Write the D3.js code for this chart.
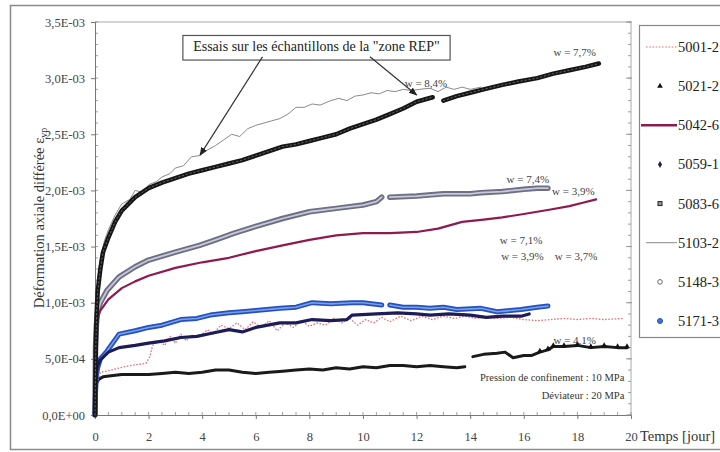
<!DOCTYPE html>
<html><head><meta charset="utf-8">
<script src="https://cdn.jsdelivr.net/npm/d3@7"></script>
<style>body{margin:0;background:#fff}svg{display:block}</style>
</head><body>
<svg id="c" width="720" height="452"></svg>
<script>
// ---- data (values in units of 1e-3) ----
const xTicks = [0,2,4,6,8,10,12,14,16,18,20];
const xTickLabels = ["0","2","4","6","8","10","12","14","16","18","20"];
const yTicks = [0,0.5,1,1.5,2,2.5,3,3.5];
const yTickLabels = ["0,0E+00","5,0E-04","1,0E-03","1,5E-03","2,0E-03","2,5E-03","3,0E-03","3,5E-03"];
const seriesNames = ["5001-2","5021-2","5042-6","5059-1","5083-6","5103-2","5148-3","5171-3"];

const s5001 = [[0,0],[0.05,0.25],[0.2,0.38],[0.6,0.4],[0.93,0.42],[1.3,0.44],[1.6,0.45],[1.9,0.46],[2.05,0.52],[2.15,0.62],[2.4,0.66],[2.6,0.62],[2.8,0.7],[3.0,0.64],[3.2,0.72],[3.4,0.66],[3.6,0.71],[3.9,0.7],[4.2,0.76],[4.4,0.72],[4.7,0.8],[5,0.77],[5.3,0.82],[5.6,0.76],[5.9,0.83],[6.2,0.78],[6.5,0.84],[6.8,0.75],[7.1,0.82],[7.4,0.78],[7.7,0.84],[8.0,0.79],[8.3,0.82],[8.6,0.8],[8.9,0.86],[9.2,0.82],[9.5,0.86],[9.8,0.8],[10.1,0.85],[10.4,0.82],[10.7,0.87],[11,0.83],[11.4,0.88],[11.8,0.84],[12.2,0.88],[12.6,0.85],[13,0.88],[13.4,0.86],[13.8,0.88],[14.2,0.86],[14.6,0.87],[15,0.86],[15.5,0.87],[16,0.85],[16.5,0.84],[17,0.85],[17.5,0.86],[18,0.85],[18.5,0.86],[19,0.85],[19.7,0.86]];
const s5021 = [[0,0],[0.02,0.2],[0.05,0.28],[0.15,0.32],[0.3,0.34],[0.6,0.35],[1,0.36],[1.5,0.36],[2,0.36],[2.5,0.37],[3,0.38],[3.5,0.37],[4,0.38],[4.5,0.4],[5,0.4],[5.5,0.38],[6,0.37],[6.5,0.38],[7,0.39],[7.5,0.4],[8,0.41],[8.5,0.4],[9,0.42],[9.5,0.41],[10,0.43],[10.5,0.42],[11,0.44],[11.5,0.44],[12,0.43],[12.5,0.44],[13,0.43],[13.5,0.42],[13.8,0.43],null,[14.1,0.52],[14.5,0.54],[15,0.55],[15.3,0.56],[15.6,0.51],[16,0.53],[16.3,0.53],[16.6,0.56],[16.9,0.58],[17.1,0.61],[17.5,0.61],[18,0.62],[18.5,0.6],[19,0.61],[19.5,0.6],[19.85,0.6]];
const s5042 = [[0,0.55],[0.05,0.8],[0.1,0.87],[0.2,0.93],[0.5,1.03],[1,1.13],[1.5,1.19],[2,1.24],[3,1.31],[4,1.36],[5,1.4],[6,1.46],[7,1.51],[8,1.56],[9,1.6],[10,1.62],[11,1.62],[12,1.63],[12.8,1.66],[13.7,1.72],[14.5,1.74],[15.2,1.76],[16,1.79],[16.5,1.81],[17,1.83],[17.7,1.86],[18.2,1.89],[18.7,1.92]];
const s5059 = [[0,0],[0.02,0.25],[0.05,0.38],[0.1,0.44],[0.2,0.49],[0.5,0.56],[0.9,0.6],[1.5,0.62],[2,0.64],[2.6,0.66],[3.2,0.69],[3.8,0.7],[4.4,0.73],[5,0.76],[5.5,0.74],[6,0.78],[6.9,0.82],[7.5,0.82],[8.1,0.85],[8.8,0.84],[9.4,0.85],[9.6,0.89],[10.5,0.9],[11.3,0.91],[12,0.9],[12.5,0.89],[13.2,0.9],[14,0.89],[14.6,0.87],[15.2,0.88],[15.9,0.88],[16.2,0.9]];
const s5083 = [[0,0],[0.03,0.6],[0.06,0.9],[0.1,1.1],[0.2,1.3],[0.3,1.45],[0.5,1.58],[0.75,1.72],[1,1.82],[1.5,1.94],[2,2.02],[2.5,2.07],[3,2.11],[3.5,2.15],[4,2.18],[4.5,2.21],[5,2.24],[5.5,2.27],[6,2.31],[6.5,2.35],[7,2.39],[7.5,2.41],[8,2.44],[8.5,2.47],[9,2.5],[9.5,2.55],[10,2.59],[10.5,2.63],[11,2.68],[11.5,2.73],[12,2.79],[12.6,2.83],null,[13,2.8],[13.5,2.84],[14,2.87],[14.5,2.9],[15.2,2.94],[15.8,2.97],[16.5,3.0],[17.1,3.04],[17.7,3.07],[18.3,3.1],[18.8,3.13]];
const s5103 = [[0,0],[0.05,0.9],[0.1,1.2],[0.2,1.4],[0.35,1.55],[0.5,1.65],[0.75,1.78],[1,1.88],[1.3,1.92],[1.5,2.0],[1.8,1.98],[2,2.05],[2.3,2.08],[2.5,2.12],[2.8,2.15],[3,2.2],[3.3,2.22],[3.6,2.3],[3.9,2.31],[4.2,2.36],[4.5,2.4],[4.8,2.45],[5.1,2.5],[5.4,2.48],[5.7,2.55],[6,2.58],[6.3,2.6],[6.6,2.62],[6.9,2.64],[7.2,2.68],[7.5,2.74],[7.8,2.74],[8.1,2.77],[8.4,2.76],[8.8,2.8],[9.1,2.82],[9.4,2.8],[9.7,2.84],[10,2.85],[10.3,2.87],[10.6,2.86],[10.9,2.89],[11.2,2.88],[11.5,2.9],[11.8,2.89],[12.1,2.9],[12.5,2.91],[12.8,2.88],[13.1,2.92],[13.4,2.9],[13.7,2.92],[14.0,2.9],[14.4,2.92]];
const s5148 = [[0,0],[0.02,0.6],[0.05,0.8],[0.1,0.92],[0.2,1.0],[0.45,1.11],[0.9,1.23],[1.5,1.32],[2,1.38],[3,1.45],[3.9,1.51],[4.5,1.56],[5.2,1.62],[6,1.68],[7,1.75],[8,1.81],[9,1.84],[10,1.87],[10.5,1.9],[10.7,1.94],null,[11,1.94],[12,1.95],[13,1.97],[14,1.97],[14.4,1.98],[15.2,1.99],[16,2.01],[16.5,2.02],[16.9,2.02]];
const s5171 = [[0,0],[0.02,0.2],[0.05,0.35],[0.1,0.42],[0.2,0.5],[0.45,0.57],[0.9,0.72],[1.5,0.75],[2,0.78],[2.5,0.8],[3.2,0.85],[3.8,0.86],[4.3,0.89],[5,0.91],[5.5,0.92],[6,0.93],[6.9,0.95],[7.5,0.96],[8.1,1.0],[8.8,0.99],[9.6,1.0],[10,1.0],[10.7,0.98],null,[11,0.98],[11.5,0.96],[12,0.96],[12.5,0.95],[13,0.96],[13.5,0.94],[14.4,0.95],[15,0.92],[15.5,0.93],[15.9,0.94],[16.5,0.96],[16.9,0.97]];

const wLabels = [
  {t:12.35, v:2.92, text:"w = 8,4%"},
  {t:17.9, v:3.2, text:"w = 7,7%"},
  {t:16.15, v:2.07, text:"w = 7,4%"},
  {t:17.85, v:1.96, text:"w = 3,9%"},
  {t:15.9, v:1.52, text:"w = 7,1%"},
  {t:15.95, v:1.38, text:"w = 3,9%"},
  {t:17.95, v:1.38, text:"w = 3,7%"},
  {t:17.9, v:0.63, text:"w = 4,1%"}
];

// ---- drawing ----
const svg = d3.select("#c");
const FONT = "'Liberation Serif','Times New Roman',serif";
const x = d3.scaleLinear().domain([0,20]).range([95,631]);
const y = d3.scaleLinear().domain([0,3.5]).range([415,22]);

// outer frame
svg.append("rect").attr("x",10.5).attr("y",5.5).attr("width",740).attr("height",444)
  .attr("fill","none").attr("stroke","#8a8a8a").attr("stroke-width",1.5);

// plot area border (top & right)
svg.append("line").attr("x1",x(0)).attr("x2",x(20)).attr("y1",y(3.5)).attr("y2",y(3.5)).attr("stroke","#aaa");
svg.append("line").attr("x1",x(20)).attr("x2",x(20)).attr("y1",y(3.5)).attr("y2",y(0)).attr("stroke","#aaa");

// minor ticks
const gMin = svg.append("g").attr("stroke","#888").attr("stroke-width",0.8);
d3.range(0,3.51,0.1).forEach(v=>{
  gMin.append("line").attr("x1",x(0)).attr("x2",x(0)+3).attr("y1",y(v)).attr("y2",y(v));
  gMin.append("line").attr("x1",x(20)-3).attr("x2",x(20)).attr("y1",y(v)).attr("y2",y(v));
});
d3.range(0,20.01,0.5).forEach(t=>{
  gMin.append("line").attr("x1",x(t)).attr("x2",x(t)).attr("y1",y(0)).attr("y2",y(0)-3);
});

// axes
const yAxis = svg.append("g").attr("transform",`translate(${x(0)},0)`)
  .call(d3.axisLeft(y).tickValues(yTicks).tickFormat((d,i)=>yTickLabels[i]).tickSize(4).tickPadding(6));
const xAxis = svg.append("g").attr("transform",`translate(0,${y(0)})`)
  .call(d3.axisBottom(x).tickValues(xTicks).tickFormat((d,i)=>xTickLabels[i]).tickSize(4).tickPadding(13));
[yAxis,xAxis].forEach(g=>{
  g.select(".domain").attr("stroke","#777");
  g.selectAll(".tick line").attr("stroke","#777");
  g.selectAll("text").attr("font-family",FONT).attr("font-size",12.5).attr("fill","#444");
});
// right axis major ticks
svg.append("g").selectAll("line").data(yTicks).join("line")
  .attr("x1",x(20)-5).attr("x2",x(20)+1).attr("y1",d=>y(d)).attr("y2",d=>y(d)).attr("stroke","#999");

// x axis title after "20"
svg.append("text").attr("x",x(20)+9).attr("y",y(0)+26).attr("font-family",FONT).attr("font-size",14.5)
  .attr("fill","#333").text("Temps [jour]");

// y axis title
const yt = svg.append("text").attr("transform",`translate(44,218) rotate(-90)`).attr("text-anchor","middle")
  .attr("font-family",FONT).attr("font-size",14.5).attr("fill","#333");
yt.append("tspan").text("Déformation axiale différée  ε");
yt.append("tspan").attr("font-size",10).attr("dy",3).text("vp");

// lines
const line = d3.line().defined(d=>d!==null).x(d=>x(d[0])).y(d=>y(d[1]));
const plot = svg.append("g");
function path(data, stroke, w, extra){
  const p = plot.append("path").datum(data).attr("d",line).attr("fill","none")
    .attr("stroke",stroke).attr("stroke-width",w).attr("stroke-linejoin","round").attr("stroke-linecap","round");
  if(extra) extra(p);
  return p;
}
// 5148-3 gray circles
path(s5148,"#6e6e86",5.5);
path(s5148,"#c8c8d8",1.8);
// 5042-6
path(s5042,"#8e1a4e",2.2);
// 5021-2 black triangles
path(s5021,"#1a1a1a",3);
plot.append("g").selectAll("path").data(s5021.filter(d=>d&&d[0]>16.5)).join("path")
  .attr("d",d3.symbol(d3.symbolTriangle,14)).attr("transform",d=>`translate(${x(d[0])},${y(d[1])-1})`).attr("fill","#111");
// 5001-2 pink dotted
path(s5001,"#e0707c",1.3,p=>p.attr("stroke-dasharray","1.6,1.6").attr("stroke-linecap","butt"));
// 5171-3 blue circles
path(s5171,"#2450c0",5);
path(s5171,"#7aa0e8",1.6);
// 5059-1 navy diamonds
path(s5059,"#1c1c58",3.2);
// 5103-2 thin gray
path(s5103,"#8a8a8a",1);
// 5083-6 black squares
path(s5083,"#151515",4.5);
path(s5083,"#777",0.8,p=>p.attr("stroke-dasharray","1.5,2.5"));

// w labels
svg.append("g").selectAll("text").data(wLabels).join("text")
  .attr("x",d=>x(d.t)).attr("y",d=>y(d.v)).attr("text-anchor","middle")
  .attr("font-family",FONT).attr("font-size",11).attr("fill","#444").text(d=>d.text);

// conditions text
svg.append("text").attr("x",x(19.8)).attr("y",y(-0.13)+0).attr("text-anchor","end")
  .attr("font-family",FONT).attr("font-size",10.5).attr("fill","#333");
svg.append("text").attr("x",x(19.75)).attr("y",y(0.3)).attr("text-anchor","end")
  .attr("font-family",FONT).attr("font-size",10.5).attr("fill","#333").text("Pression de confinement : 10 MPa");
svg.append("text").attr("x",x(19.75)).attr("y",y(0.14)).attr("text-anchor","end")
  .attr("font-family",FONT).attr("font-size",10.5).attr("fill","#333").text("Déviateur : 20 MPa");

// annotation box + arrows
svg.append("defs").append("marker").attr("id","ah").attr("viewBox","0 0 10 10").attr("refX",9).attr("refY",5)
  .attr("markerWidth",7).attr("markerHeight",7).attr("orient","auto")
  .append("path").attr("d","M0,1 L10,5 L0,9 z").attr("fill","#222");
const ann = svg.append("g");
ann.append("rect").attr("x",x(3.28)).attr("y",y(3.38)).attr("width",x(13.25)-x(3.28)).attr("height",y(2.79)-y(3.0)+1)
  .attr("fill","#fff").attr("stroke","#555").attr("stroke-width",1.2);
ann.append("text").attr("x",(x(3.28)+x(13.25))/2).attr("y",y(3.38)+16).attr("text-anchor","middle")
  .attr("font-family",FONT).attr("font-size",14).attr("fill","#222").text('Essais sur les échantillons de la "zone REP"');
ann.append("line").attr("x1",x(6.25)).attr("y1",y(3.19)).attr("x2",x(3.92)).attr("y2",y(2.315))
  .attr("stroke","#333").attr("stroke-width",1.2).attr("marker-end","url(#ah)");
ann.append("line").attr("x1",x(10.26)).attr("y1",y(3.19)).attr("x2",x(12.0)).attr("y2",y(2.85))
  .attr("stroke","#333").attr("stroke-width",1.2).attr("marker-end","url(#ah)");

// legend
const lg = svg.append("g");
lg.append("rect").attr("x",639.5).attr("y",25.5).attr("width",100).attr("height",312)
  .attr("fill","#fff").attr("stroke","#888").attr("stroke-width",1.2);
const legY = d3.scalePoint().domain(seriesNames).range([47,321]);
seriesNames.forEach(n=>{
  const yy = legY(n);
  lg.append("text").attr("x",678).attr("y",yy+5).attr("font-family",FONT).attr("font-size",14.5).attr("fill","#222").text(n);
});
const sym = (n)=>legY(n);
lg.append("line").attr("x1",646).attr("x2",677).attr("y1",sym("5001-2")).attr("y2",sym("5001-2"))
  .attr("stroke","#e0707c").attr("stroke-width",1.2).attr("stroke-dasharray","1.6,1.6");
lg.append("path").attr("d",d3.symbol(d3.symbolTriangle,14)).attr("transform",`translate(660,${sym("5021-2")})`).attr("fill","#111");
lg.append("line").attr("x1",641).attr("x2",677).attr("y1",sym("5042-6")).attr("y2",sym("5042-6"))
  .attr("stroke","#8e1a4e").attr("stroke-width",2.5);
lg.append("path").attr("d",d3.symbol(d3.symbolDiamond,14)).attr("transform",`translate(660,${sym("5059-1")})`).attr("fill","#1c1c58");
lg.append("rect").attr("x",658).attr("y",sym("5083-6")-2).attr("width",4).attr("height",4).attr("fill","#999").attr("stroke","#222").attr("stroke-width",1);
lg.append("line").attr("x1",646).attr("x2",677).attr("y1",sym("5103-2")).attr("y2",sym("5103-2"))
  .attr("stroke","#8a8a8a").attr("stroke-width",1);
lg.append("circle").attr("cx",660).attr("cy",sym("5148-3")).attr("r",2.3).attr("fill","#fff").attr("stroke","#666").attr("stroke-width",1);
lg.append("circle").attr("cx",660).attr("cy",sym("5171-3")).attr("r",2.5).attr("fill","#4a70d0").attr("stroke","#2450c0");
</script>
</body></html>
